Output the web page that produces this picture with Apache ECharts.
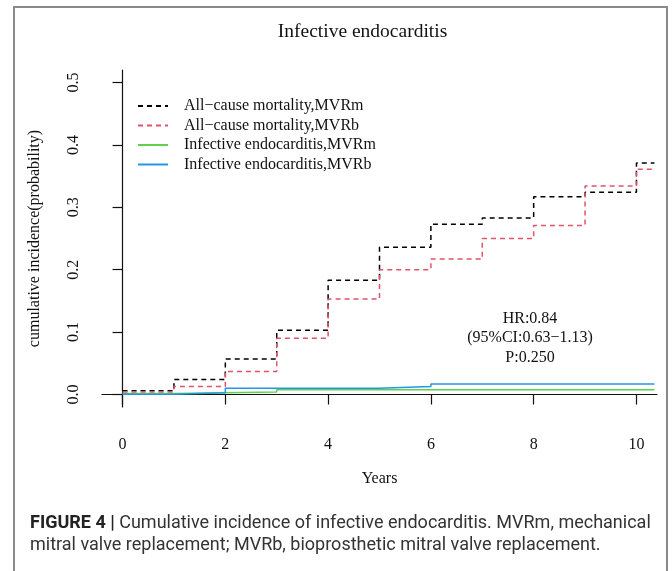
<!DOCTYPE html>
<html>
<head>
<meta charset="utf-8">
<script src="https://cdn.jsdelivr.net/npm/echarts@6/dist/echarts.min.js"></script>
<style>
  html, body { margin: 0; padding: 0; background: #fff; }
  #chart { width: 672px; height: 571px; }
</style>
</head>
<body>
<div id="chart"></div>
<script>
// Follow-up time points (years); the last point closes the final step
const years = [0, 1, 2, 3, 4, 5, 6, 7, 8, 9, 10, 10.35];

// Cumulative incidence step values (value holds from each time to the next)
const mortalityMVRm = [0.006, 0.024, 0.057, 0.103, 0.183, 0.236, 0.273, 0.283, 0.317, 0.324, 0.371, 0.371];
const mortalityMVRb = [0.004, 0.013, 0.037, 0.090, 0.153, 0.200, 0.217, 0.250, 0.271, 0.334, 0.361, 0.361];
const endocarditisMVRm = [0.0016, 0.003, 0.004, 0.0075, 0.0075, 0.0075, 0.0075, 0.0075, 0.0075, 0.0075, 0.0075, 0.0075];
const endocarditisMVRb = [0.0005, 0.003, 0.010, 0.010, 0.010, 0.013, 0.017, 0.017, 0.017, 0.017, 0.017, 0.017];

const seriesNames = [
  'All\u2212cause mortality,MVRm',
  'All\u2212cause mortality,MVRb',
  'Infective endocarditis,MVRm',
  'Infective endocarditis,MVRb'
];

const xTicks = [0, 2, 4, 6, 8, 10];
const yTicks = [0, 0.1, 0.2, 0.3, 0.4, 0.5];
const yTickLabels = ['0.0', '0.1', '0.2', '0.3', '0.4', '0.5'];

const statsLines = ['HR:0.84', '(95%CI:0.63\u22121.13)', 'P:0.250'];

const serif = '"Liberation Serif", "DejaVu Serif", serif';
const sans = 'Roboto, "Liberation Sans", sans-serif';

function pairs(values) {
  return years.map((t, i) => [t, values[i]]);
}

function stepSeries(name, values, color, dashed) {
  return {
    name: name,
    type: 'line',
    step: 'end',
    symbol: 'none',
    silent: true,
    data: pairs(values),
    lineStyle: { color: color, width: 1.5, type: dashed ? [5, 4] : 'solid' },
    itemStyle: { color: color }
  };
}

const chart = echarts.init(document.getElementById('chart'), null, { renderer: 'canvas' });

chart.setOption({
  animation: false,
  backgroundColor: '#ffffff',
  grid: { left: 102, right: 15, top: 70, bottom: 164 },
  legend: {
    orient: 'vertical',
    left: 137,
    top: 98,
    padding: 0,
    itemWidth: 30,
    itemHeight: 14,
    itemGap: 3.5,
    selectedMode: false,
    itemStyle: { opacity: 0 },
    textStyle: { fontFamily: serif, fontSize: 16, color: '#111', padding: [0, 0, 0, 11], lineHeight: 14 },
    data: seriesNames
  },
  xAxis: {
    type: 'value',
    min: -0.4,
    max: 10.4,
    name: 'Years',
    nameLocation: 'middle',
    nameGap: 64,
    nameTextStyle: { fontFamily: serif, fontSize: 16, color: '#111' },
    splitLine: { show: false },
    axisLine: { lineStyle: { color: '#111', width: 1.2 } },
    axisTick: { customValues: xTicks, length: 10, lineStyle: { color: '#111', width: 1.2 } },
    axisLabel: { customValues: xTicks, margin: 30, fontFamily: serif, fontSize: 16, color: '#111' }
  },
  yAxis: {
    type: 'value',
    min: -0.02,
    max: 0.52,
    name: 'cumulative incidence(probability)',
    nameLocation: 'middle',
    nameGap: 59,
    nameRotate: 90,
    nameTextStyle: { fontFamily: serif, fontSize: 16, color: '#111' },
    splitLine: { show: false },
    axisLine: { lineStyle: { color: '#111', width: 1.2 } },
    axisTick: { customValues: yTicks, length: 10, lineStyle: { color: '#111', width: 1.2 } },
    axisLabel: {
      customValues: yTicks,
      rotate: 90,
      margin: 20,
      fontFamily: serif,
      fontSize: 16,
      color: '#111',
      formatter: function (v) {
        const i = yTicks.findIndex(t => Math.abs(t - v) < 1e-9);
        return i >= 0 ? yTickLabels[i] : '';
      }
    }
  },
  series: [
    stepSeries(seriesNames[0], mortalityMVRm, '#000000', true),
    stepSeries(seriesNames[1], mortalityMVRb, '#DF536B', true),
    stepSeries(seriesNames[2], endocarditisMVRm, '#61D04F', false),
    stepSeries(seriesNames[3], endocarditisMVRb, '#2297E6', false)
  ],
  graphic: [
    {
      type: 'rect',
      silent: true,
      shape: { x: 14, y: 7, width: 653, height: 580 },
      style: { fill: null, stroke: '#8a8a8a', lineWidth: 2 }
    },
    {
      type: 'text',
      silent: true,
      x: 362.5,
      y: 32,
      style: {
        text: 'Infective endocarditis',
        fontFamily: serif,
        fontSize: 19.5,
        fill: '#111',
        align: 'center',
        verticalAlign: 'middle'
      }
    },
    {
      type: 'text',
      silent: true,
      x: 530,
      y: 309,
      style: {
        text: statsLines.join('\n'),
        fontFamily: serif,
        fontSize: 16,
        lineHeight: 19.5,
        fill: '#111',
        align: 'center',
        verticalAlign: 'top'
      }
    },
    {
      type: 'text',
      silent: true,
      x: 30,
      y: 512,
      style: {
        text: '{b|FIGURE 4 |} Cumulative incidence of infective endocarditis. MVRm, mechanical\nmitral valve replacement; MVRb, bioprosthetic mitral valve replacement.',
        fontFamily: sans,
        fontSize: 18,
        lineHeight: 22,
        fill: '#333',
        rich: {
          b: { fontFamily: sans, fontSize: 18, fontWeight: 'bold', fill: '#222', lineHeight: 22 }
        }
      }
    }
  ]
});
</script>
</body>
</html>
